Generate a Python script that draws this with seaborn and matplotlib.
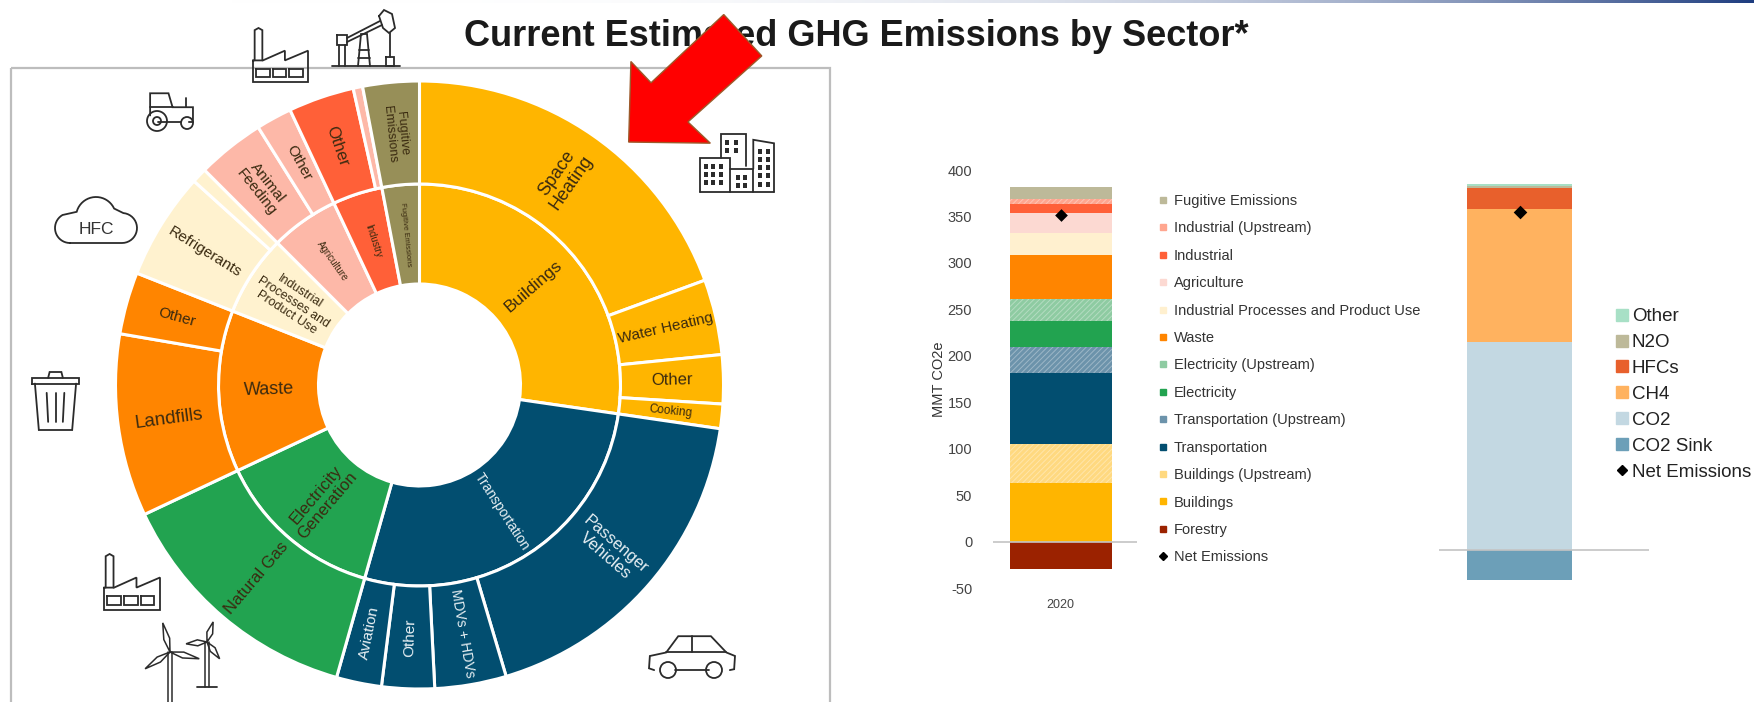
import numpy as np
import seaborn as sns
import matplotlib.pyplot as plt
from matplotlib.lines import Line2D
from matplotlib.patches import Polygon, Rectangle, Circle

# sunburst, share of emissions in percent
inner_labels = ['Buildings', 'Transportation', 'Electricity\nGeneration', 'Waste',
                'Industrial\nProcesses and\nProduct Use', 'Agriculture', 'Industry', 'Fugitive Emissions']
inner_values = [27.3, 27.1, 13.6, 13.0, 6.5, 5.5, 4.0, 3.0]
inner_colors = ['#FFB500', '#024E70', '#22A350', '#FF8500', '#FFF2CF', '#FDB8A8', '#FF6038', '#978F58']
inner_sizes = [12.5, 10, 12, 13, 9, 7, 7, 5.5]

outer_labels = ['Space\nHeating', 'Water Heating', 'Other', 'Cooking',
                'Passenger\nVehicles', 'MDVs + HDVs', 'Other', 'Aviation',
                'Natural Gas', 'Landfills', 'Other', 'Refrigerants', '',
                'Animal\nFeeding', 'Other', 'Other', '', 'Fugitive\nEmissions']
outer_values = [19.4, 4.0, 2.6, 1.3, 18.1, 3.8, 2.8, 2.4, 13.6, 9.7, 3.3, 5.7, 0.8, 3.6, 1.9, 3.5, 0.5, 3.0]
outer_colors = ['#FFB500'] * 4 + ['#024E70'] * 4 + ['#22A350', '#FF8500', '#FF8500', '#FFF2CF', '#FFF2CF',
                                                   '#FDB8A8', '#FDB8A8', '#FF6038', '#FDB8A8', '#978F58']
outer_sizes = [13, 11, 12, 8.5, 12, 10, 11, 11, 12, 13.5, 11, 11, 8, 11, 11, 12, 8, 9]

# left stacked bar
sector_labels = ['Forestry', 'Buildings', 'Buildings (Upstream)', 'Transportation', 'Transportation (Upstream)',
                 'Electricity', 'Electricity (Upstream)', 'Waste', 'Industrial Processes and Product Use',
                 'Agriculture', 'Industrial', 'Industrial (Upstream)', 'Fugitive Emissions']
sector_values = [-30, 62.7, 42.3, 76, 28, 28.5, 23.5, 47.5, 23.5, 21.5, 10, 5, 13]
sector_colors = ['#9B2200', '#FFB500', '#FFD980', '#024E70', '#6C93AB', '#22A350', '#8ECBA2', '#FF8500',
                 '#FFF0CF', '#FCD9D2', '#FF6038', '#FFA68F', '#BDB999']
sector_net = 351.5
year = '2020'
y_ticks = [-50, 0, 50, 100, 150, 200, 250, 300, 350, 400]

# right stacked bar
gas_labels = ['CO2 Sink', 'CO2', 'CH4', 'HFCs', 'N2O', 'Other']
gas_values = [-31.4, 217.8, 138.2, 22.7, 1.3, 2.5]
gas_colors = ['#6C9FB8', '#C3D8E2', '#FFB25F', '#E8602C', '#BDB999', '#A8E0C6']
gas_net = 353

W, H = 1754, 702
S = W / 1568


def px_axes(left, top, right, bottom):
    return fig.add_axes([left / W, 1 - bottom / H, (right - left) / W, (bottom - top) / H])


def stacked(ax, values, colors, labels, width):
    pos, neg = 0, 0
    for val, col, lab in zip(values, colors, labels):
        base = neg if val < 0 else pos
        kw = {}
        if 'Upstream' in lab:
            kw = dict(hatch='//////', edgecolor='#ffffff55')
        sns.barplot(x=[0], y=[val], bottom=base, color=col, saturation=1, width=width,
                    errorbar=None, linewidth=0, ax=ax, **kw)
        if val < 0:
            neg += val
        else:
            pos += val


def ring(ax, values, colors, labels, sizes, radius, width):
    ax.pie(values, colors=colors, radius=radius, startangle=90, counterclock=False,
           wedgeprops=dict(width=width, edgecolor='white', linewidth=2.2))
    mid = radius - width / 2
    start = 0
    for val, lab, size, col in zip(values, labels, sizes, colors):
        ang = start + val * 1.8
        start += val * 3.6
        if not lab:
            continue
        math_ang = 90 - ang
        rot = math_ang + 180 if math_ang < -90 else math_ang
        tx, ty = mid * np.cos(np.radians(math_ang)), mid * np.sin(np.radians(math_ang))
        txt_col = '#e8f0f4' if col == '#024E70' else '#3a2a10'
        ax.text(tx, ty, lab, fontsize=size, color=txt_col, rotation=rot, rotation_mode='anchor',
                ha='center', va='center', linespacing=1.05)


def draw(paths, x0=0, y0=0, w=1, h=1, lw=1.3):
    # paths are in 0-1 icon coords, or plain pixels with the defaults
    for p in paths:
        p = np.array(p, dtype=float)
        ov.plot(x0 + p[:, 0] * w, y0 + p[:, 1] * h, color='#2b2b2b', lw=lw, solid_joinstyle='miter')


def lobe(xc, yc, r, a0, a1):
    a = np.radians(np.linspace(a0, a1, 20))
    return np.column_stack([xc + r * np.cos(a), yc - r * np.sin(a)])


sns.set_theme(style='white')
plt.rcParams['font.family'] = ['Liberation Sans', 'DejaVu Sans']
plt.rcParams['hatch.linewidth'] = 0.7
plt.rcParams['axes.unicode_minus'] = False

fig = plt.figure(figsize=(W / 100, H / 100), dpi=100, facecolor='white')

# sunburst
cx, cy, R = 419.5, 385, 304
lim = 1.02
ax = px_axes(cx - R * lim, cy - R * lim, cx + R * lim, cy + R * lim)
ring(ax, inner_values, inner_colors, inner_labels, inner_sizes, 201 / R, 100 / R)
ring(ax, outer_values, outer_colors, outer_labels, outer_sizes, 1, 103 / R)
ax.set_xlim(-lim, lim)
ax.set_ylim(-lim, lim)
ax.set_zorder(2)

# left bar
ax1 = px_axes(993, 170, 1137, 588)
stacked(ax1, sector_values, sector_colors, sector_labels, 102 / 144)
sns.scatterplot(x=[0], y=[sector_net], marker='D', color='black', s=42, linewidth=0, ax=ax1, zorder=5)
ax1.axhline(0, color='#c4c4c4', lw=1.2, zorder=4)
ax1.set_xlim(-0.469, 0.531)
ax1.set_ylim(-50, 400)
ax1.set_yticks(y_ticks)
ax1.set_xticks([0])
ax1.set_xticklabels([year], fontsize=9, color='#444444')
ax1.tick_params(axis='y', labelsize=10.5, labelcolor='#444444', length=0, pad=15)
ax1.tick_params(axis='x', length=0, pad=8)
ax1.set_ylabel('MMT CO2e', fontsize=10.5, color='#333333', labelpad=1)
ax1.set_xlabel('')
sns.despine(ax=ax1, left=True, bottom=True)

# right bar
ax2 = px_axes(1439, 176.8, 1649, 583.5)
stacked(ax2, gas_values, gas_colors, gas_labels, 1)
sns.scatterplot(x=[0], y=[gas_net], marker='D', color='black', s=48, linewidth=0, ax=ax2, zorder=5)
ax2.axhline(0, color='#c4c4c4', lw=1.2, zorder=4)
ax2.set_xlim(-0.771, 1.229)
ax2.set_ylim(-35, 390)
ax2.axis('off')

# legends
handles = [Line2D([], [], ls='', marker='s', ms=5, color=c) for c in sector_colors[::-1]]
handles.append(Line2D([], [], ls='', marker='D', ms=4, color='black'))
fig.legend(handles, sector_labels[::-1] + ['Net Emissions'], loc='upper left',
           bbox_to_anchor=(1158 / W, 1 - 194 / H), frameon=False, fontsize=10.5, labelcolor='#333333',
           labelspacing=0.92, handlelength=0.7, handletextpad=0.38, borderaxespad=0, borderpad=0)

handles = [Line2D([], [], ls='', marker='s', ms=8.5, color=c) for c in gas_colors[::-1]]
handles.append(Line2D([], [], ls='', marker='D', ms=5.5, color='black'))
fig.legend(handles, gas_labels[::-1] + ['Net Emissions'], loc='upper left',
           bbox_to_anchor=(1616 / W, 1 - 308 / H), frameon=False, fontsize=13.5, labelcolor='#222222',
           labelspacing=0.47, handlelength=0.65, handletextpad=0.2, borderaxespad=0, borderpad=0)

# overlay: title, frame, arrow, icons
ov = fig.add_axes([0, 0, 1, 1], facecolor='none')
ov.axis('off')
ov.set_zorder(3)

ramp = np.linspace(0, 1, 400) ** 3
band = np.ones((1, 400, 3))
for i, c in enumerate((0.12, 0.24, 0.5)):
    band[0, :, i] = 1 + (c - 1) * ramp
ov.imshow(band, extent=(230, W, 3, 0), aspect='auto', zorder=1)
ov.set_xlim(0, W)
ov.set_ylim(H, 0)

ov.add_patch(Rectangle((11, 68), 819, 700, fill=False, ec='#bdbdbd', lw=1.6, zorder=1))
ov.text(464, 36, 'Current Estimated GHG Emissions by Sector*', fontsize=26, fontweight='bold',
        color='#1a1a1a', ha='left', va='center', zorder=2)
arrow = np.array([(562, 127), (564, 55), (582, 74), (647, 13), (681, 50), (615, 109), (635, 128)]) * S
ov.add_patch(Polygon(arrow, fc='#ff0000', ec='#9c5a2a', lw=1, zorder=3))


def factory(x0, y0, w, h):
    draw([[(0, .6), (0, 1), (1, 1), (1, .42), (.58, .6), (.58, .42), (.18, .6), (0, .6)],
          [(.03, .6), (.03, .04), (.1, 0), (.17, .04), (.17, .6)],
          [(.06, .75), (.3, .75), (.3, .91), (.06, .91), (.06, .75)],
          [(.36, .75), (.6, .75), (.6, .91), (.36, .91), (.36, .75)],
          [(.66, .75), (.9, .75), (.9, .91), (.66, .91), (.66, .75)]], x0, y0, w, h)


factory(253, 28, 55, 54)
factory(104, 554, 56, 56)

# oil pump
draw([[(332, 66), (400, 66)], [(339, 66), (339, 45)], [(345, 66), (345, 45)],
      [(337, 35), (347, 35), (347, 45), (337, 45), (337, 35)],
      [(347, 42), (382, 25)], [(347, 38), (380, 21)],
      [(358, 66), (361, 34), (367, 34), (370, 66)], [(359, 50), (369, 50)], [(358, 58), (370, 58)],
      [(390, 33), (390, 57)], [(386, 57), (394, 57), (394, 66), (386, 66), (386, 57)],
      [(379, 16), (384, 10), (392, 14), (395, 28), (389, 33), (383, 28), (379, 16)]])
# tractor
draw([[(.12, .62), (.12, .08), (.48, .08), (.56, .42), (.96, .42), (.96, .78), (.88, .78)],
      [(.12, .42), (.56, .42)], [(.28, .78), (.72, .78)], [(.82, .42), (.82, .2)]], 144, 90, 51, 41)
for xc, yc, r in [(157, 121, 10), (157, 121, 4), (187, 123, 6)]:
    ov.add_patch(Circle((xc, yc), r, fill=False, ec='#2b2b2b', lw=1.3))
# buildings
draw([[(.28, .42), (.28, 0), (.62, 0), (.62, .55)], [(0, 1), (0, .42), (.4, .42), (.4, 1)],
      [(.4, .6), (.72, .6), (.72, 1)], [(.72, .6), (.72, .1), (1, .16), (1, 1)], [(0, 1), (1, 1)]], 700, 134, 74, 58)
grid_x = [(.06, .15, .26), (.34, .46), (.48, .58), (.79, .89)]
grid_y = [(.52, .66, .8), (.1, .24), (.7, .84), (.26, .4, .54, .68, .82)]
for xs, ys in zip(grid_x, grid_y):
    for gx in xs:
        for gy in ys:
            ov.add_patch(Rectangle((700 + gx * 74, 134 + gy * 58), 4, 5, fc='#2b2b2b', ec='none'))
# HFC cloud
cloud = np.vstack([lobe(70, 228, 15, 270, 120), lobe(96, 217, 20, 165, 25),
                   lobe(122, 228, 15, 85, -90), [(70, 243)]])
draw([cloud])
ov.text(96, 229, 'HFC', fontsize=12.5, color='#333333', ha='center', va='center')
# trash can
draw([[(.02, .2), (.98, .2), (.98, .1), (.02, .1), (.02, .2)], [(.08, .2), (.16, 1), (.84, 1), (.92, .2)],
      [(.35, .1), (.38, 0), (.62, 0), (.65, .1)], [(.32, .36), (.35, .86)], [(.5, .36), (.5, .86)],
      [(.68, .36), (.65, .86)]], 31, 372, 49, 58)
# wind turbines
for xc, yc, blade, angles, foot in [(170, 652, 30, (-14, 103, 236), 702), (207, 642, 21, (17, 143, 265), 687)]:
    for a in angles:
        r = np.radians(a)
        ux, uy = np.sin(r), -np.cos(r)
        leaf = [(xc, yc), (xc + .45 * blade * ux - 3 * uy, yc + .45 * blade * uy + 3 * ux),
                (xc + blade * ux, yc + blade * uy),
                (xc + .45 * blade * ux + 3 * uy, yc + .45 * blade * uy - 3 * ux), (xc, yc)]
        draw([leaf], lw=1.1)
    draw([[(xc - 2, yc), (xc - 2, foot)], [(xc + 2, yc), (xc + 2, foot)]], lw=1.1)
draw([[(197, 687), (217, 687)]])
# car
draw([[(.06, .82), (0, .78), (.01, .5), (.2, .42), (.34, .05), (.72, .05), (.9, .42), (1, .5), (.99, .8), (.94, .82)],
      [(.2, .42), (.9, .42)], [(.5, .05), (.5, .42)], [(.3, .82), (.7, .82)]], 649, 634, 86, 44)
for xc in (668, 714):
    ov.add_patch(Circle((xc, 670), 8, fill=False, ec='#2b2b2b', lw=1.3))

plt.savefig('out.png', dpi=100)
